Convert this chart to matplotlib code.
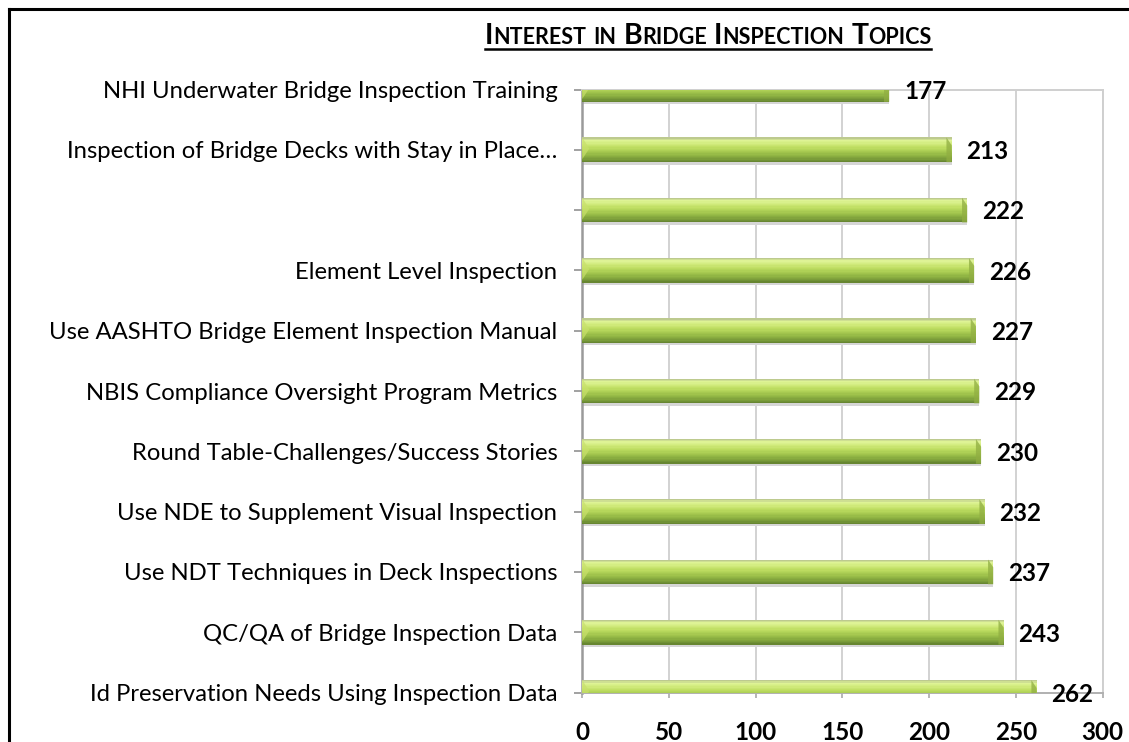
import numpy as np
import matplotlib
matplotlib.use("Agg")
import matplotlib.pyplot as plt
from matplotlib.lines import Line2D
from matplotlib.colors import to_rgb

# ---------------- data ----------------
categories = [
    "NHI Underwater Bridge Inspection Training",
    "Inspection of Bridge Decks with Stay in Place\u2026",
    "",
    "Element Level Inspection",
    "Use AASHTO Bridge Element Inspection Manual",
    "NBIS Compliance Oversight Program Metrics",
    "Round Table-Challenges/Success Stories",
    "Use NDE to Supplement Visual Inspection",
    "Use NDT Techniques in Deck Inspections",
    "QC/QA of Bridge Inspection Data",
    "Id Preservation Needs Using Inspection Data",
]
values = [177, 213, 222, 226, 227, 229, 230, 232, 237, 243, 262]
x_ticks = [0, 50, 100, 150, 200, 250, 300]
title_words = ["Interest", "in", "Bridge", "Inspection", "Topics"]

FONT = "Lato"
plt.rcParams["font.family"] = [FONT, "DejaVu Sans"]

W, H = 1129, 742
fig = plt.figure(figsize=(W / 100, H / 100), dpi=100)
fig.patch.set_facecolor("white")

# axes placement (pixels measured from reference)
x0, x1 = 582.3, 1102.5
ytop, ybot = 89.5, 692.5
ax = fig.add_axes([x0 / W, 1 - ybot / H, (x1 - x0) / W, (ybot - ytop) / H])

n = len(categories)
pos = np.arange(n)
bh = 0.41

# gradient colours (top -> bottom of each bar)
keys = ["#b5c08e", "#def395", "#d2eb7e", "#c2e066", "#b2d358", "#a0c34c",
        "#8db142", "#7a9c3a", "#62802f"]
key_rgb = np.array([to_rgb(c) for c in keys])
nstripe = 20
tgrid = np.linspace(0, 1, len(keys))

# shadow
ax.barh(pos + 0.04, values, height=bh, left=0, color="#d6d6d6", zorder=2,
        linewidth=0)
for k in range(nstripe):
    t = (k + 0.5) / nstripe
    col = [np.interp(t, tgrid, key_rgb[:, c]) for c in range(3)]
    y_off = -bh / 2 + (k + 0.5) * bh / nstripe
    ax.barh(pos + y_off, values, height=bh / nstripe * 1.05, left=0,
            color=col, linewidth=0, zorder=3)

# right-end bevel (darker triangle) and left-end highlight
for p, v in zip(pos, values):
    top = p - bh / 2
    bot = p + bh / 2
    ax.fill([v - 3.0, v, v, v - 3.0], [top, top + 0.13, bot, bot],
            color="#90ae42", zorder=4, linewidth=0, alpha=0.75)
    ax.fill([0, 4.0, 0], [top, p - 0.02, bot - 0.05],
            color="#c8e06c", zorder=4, linewidth=0, alpha=0.7)

ax.set_xlim(0, 300)
ax.set_ylim(n - 1, 0)
ax.set_xticks(x_ticks)
ax.set_xticklabels([str(t) for t in x_ticks], fontsize=17.5, fontweight="bold")
ax.set_yticks(pos)
ax.set_yticklabels(categories, fontsize=17.2)

ax.grid(axis="x", color="#d2d2d2", linewidth=1.4, zorder=0)
ax.set_axisbelow(True)
for s in ["top", "right"]:
    ax.spines[s].set_color("#cfcfcf")
    ax.spines[s].set_linewidth(1.4)
ax.spines["left"].set_color("#9a9a9a")
ax.spines["left"].set_linewidth(1.8)
ax.spines["bottom"].set_color("#b0b0b0")
ax.spines["bottom"].set_linewidth(1.4)
ax.tick_params(axis="y", direction="out", length=6, width=1.3, color="#9a9a9a",
               pad=12)
ax.tick_params(axis="x", direction="out", length=3.5, width=1.3,
               color="#b0b0b0", pad=17)

for p, v in zip(pos, values):
    ax.text(v + 8.6, p + 0.03, str(v), va="center", ha="left", fontsize=17.5,
            fontweight="bold", clip_on=False, zorder=6)

# ---------------- title (small caps, underlined) ----------------
big, small = 20.5, 15.5
base_y = H - 44  # figure pixels
items = []
for word in title_words:
    if word[0].isupper():
        first, rest = word[0], word[1:].upper()
        items.append(fig.text(0, 0, first, fontsize=big, fontweight="bold",
                              va="baseline", ha="left"))
        items.append(fig.text(0, 0, rest, fontsize=small, fontweight="bold",
                              va="baseline", ha="left"))
    else:
        items.append(fig.text(0, 0, "", fontsize=big, fontweight="bold",
                              va="baseline", ha="left"))
        items.append(fig.text(0, 0, word.upper(), fontsize=small,
                              fontweight="bold", va="baseline", ha="left"))

fig.canvas.draw()
r = fig.canvas.get_renderer()
xstart = 485
xcur = xstart
space = 7
for idx, t in enumerate(items):
    t.set_position((xcur / W, base_y / H))
    if t.get_text():
        bb = t.get_window_extent(r)
        xcur += bb.width
    if idx % 2 == 1:
        xcur += space
xend = xcur - space
fig.add_artist(Line2D([xstart / W, xend / W], [(H - 48.5) / H, (H - 48.5) / H],
                      color="black", linewidth=1.8, transform=fig.transFigure))

# figure border (left and top only visible)
fig.add_artist(Line2D([8.5 / W, 8.5 / W], [0, 1 - 9 / H], color="black",
                      linewidth=2.2, transform=fig.transFigure,
                      solid_capstyle="projecting"))
fig.add_artist(Line2D([8.5 / W, 1], [1 - 9 / H, 1 - 9 / H], color="black",
                      linewidth=2.2, transform=fig.transFigure,
                      solid_capstyle="projecting"))

fig.savefig("out.png", dpi=100, facecolor="white")
